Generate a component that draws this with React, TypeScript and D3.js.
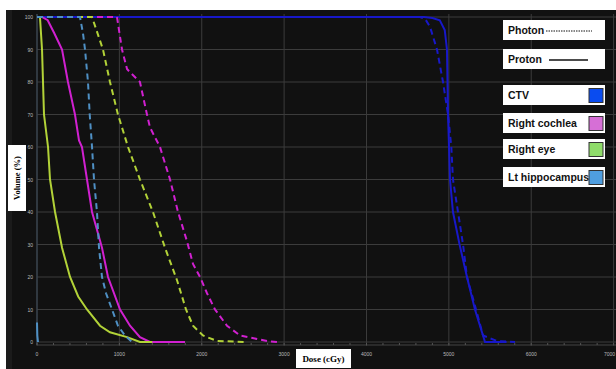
import React, { useEffect, useRef } from 'react';
import * as d3 from 'd3';

type Pt = [number, number];

// dose (cGy), volume (%)
const ctvProton: Pt[] = [[0, 100], [4700, 100], [4800, 99.7], [4890, 99], [4950, 96], [4977, 90], [4990, 70], [5014, 50], [5050, 40], [5130, 30], [5220, 20], [5317, 10], [5390, 4], [5439, 0], [5700, 0]];
const ctvPhoton: Pt[] = [[0, 100], [4650, 100], [4710, 99.5], [4771, 97], [4856, 90], [4929, 80], [4990, 70], [5030, 60], [5050, 50], [5111, 40], [5172, 30], [5220, 20], [5330, 10], [5415, 2], [5585, 0.3], [5803, 0]];
const cochleaProton: Pt[] = [[60, 100], [130, 99], [210, 95], [304, 90], [376, 80], [461, 70], [510, 62], [546, 60], [607, 50], [668, 40], [789, 29], [862, 20], [1008, 10], [1129, 5], [1250, 1.5], [1372, 0], [1797, 0]];
const cochleaPhoton: Pt[] = [[0, 100], [971, 100], [1032, 90], [1093, 84], [1129, 83], [1250, 80], [1335, 70], [1372, 66], [1493, 60], [1615, 50], [1712, 40], [1821, 31], [1894, 24], [1979, 20], [2064, 15], [2161, 10], [2307, 5], [2465, 2], [2792, 0.3], [2914, 0]];
const eyeProton: Pt[] = [[0, 100], [36, 100], [61, 90], [85, 70], [134, 60], [158, 50], [219, 40], [304, 29], [401, 20], [500, 14], [607, 10], [765, 5], [886, 3], [1093, 1.5], [1250, 0], [1400, 0]];
const eyePhoton: Pt[] = [[0, 100], [668, 100], [801, 90], [886, 80], [983, 70], [1105, 60], [1250, 50], [1408, 40], [1554, 29], [1700, 19], [1809, 10], [1894, 5], [2015, 2], [2185, 0.3], [2550, 0]];
const hippoProton: Pt[] = [[0, 6], [4, 2], [12, 0]];
const hippoPhoton: Pt[] = [[0, 100], [522, 100], [558, 95], [583, 90], [619, 80], [640, 70], [668, 60], [692, 50], [728, 40], [753, 29], [789, 20], [838, 15], [911, 10], [983, 5], [1068, 2], [1153, 0]];

const xTicks = [0, 1000, 2000, 3000, 4000, 5000, 6000, 7000];
const yTicks = [0, 10, 20, 30, 40, 50, 60, 70, 80, 90, 100];

const structures = [
  { name: 'CTV', line: '#1818c8', swatch: '#0a4cf0', proton: ctvProton, photon: ctvPhoton },
  { name: 'Right cochlea', line: '#d020d0', swatch: '#d66fd6', proton: cochleaProton, photon: cochleaPhoton },
  { name: 'Right eye', line: '#b2d238', swatch: '#8fdc6a', proton: eyeProton, photon: eyePhoton },
  { name: 'Lt hippocampus', line: '#4f90c4', swatch: '#4f9ee0', proton: hippoProton, photon: hippoPhoton },
];

const App = () => {
  const ref = useRef<SVGSVGElement>(null);

  useEffect(() => {
    const svg = d3.select(ref.current);
    svg.selectAll('*').remove();

    const x = d3.scaleLinear().domain([0, 7000]).range([37, 613.6]);
    const y = d3.scaleLinear().domain([0, 100]).range([342, 17]);

    // page background
    svg.append('rect').attr('width', 616).attr('height', 369).attr('fill', '#ffffff');
    svg.append('rect').attr('x', 6).attr('y', 10).attr('width', 610).attr('height', 359).attr('fill', '#1b1b1b');
    svg.append('rect').attr('x', 12).attr('y', 10).attr('width', 604).attr('height', 359).attr('fill', '#111111');

    // grid
    const g = svg.append('g');
    g.selectAll('.hg').data(yTicks).enter().append('line')
      .attr('x1', 37).attr('x2', 616)
      .attr('y1', d => y(d)).attr('y2', d => y(d))
      .attr('stroke', '#3c3c3c').attr('stroke-width', 1);
    g.selectAll('.vg').data(xTicks).enter().append('line')
      .attr('x1', d => x(d)).attr('x2', d => x(d))
      .attr('y1', 14).attr('y2', 346)
      .attr('stroke', '#3c3c3c').attr('stroke-width', 1);
    // axis lines
    g.append('line').attr('x1', 37).attr('x2', 616).attr('y1', 345).attr('y2', 345).attr('stroke', '#444');
    g.append('line').attr('x1', 37).attr('x2', 37).attr('y1', 14).attr('y2', 345).attr('stroke', '#3a4a5a');
    // minor ticks
    g.selectAll('.mt').data(d3.range(0, 7001, 200)).enter().append('line')
      .attr('x1', d => x(d)).attr('x2', d => x(d))
      .attr('y1', 343).attr('y2', 345)
      .attr('stroke', '#555');

    // tick labels
    g.selectAll('.yl').data(yTicks).enter().append('text')
      .attr('x', 33).attr('y', d => y(d) + 2)
      .attr('text-anchor', 'end')
      .attr('font-family', 'Liberation Sans, Arial, sans-serif')
      .attr('font-size', 5).attr('fill', '#bbbbbb')
      .text(d => d);
    g.selectAll('.xl').data(xTicks).enter().append('text')
      .attr('x', d => (d === 7000 ? 615 : x(d))).attr('y', 356)
      .attr('text-anchor', d => (d === 7000 ? 'end' : 'middle'))
      .attr('font-family', 'Liberation Sans, Arial, sans-serif')
      .attr('font-size', 5).attr('fill', '#bbbbbb')
      .text(d => d);

    // curves
    const line = d3.line<Pt>().x(d => x(d[0])).y(d => y(d[1]));
    const curves = svg.append('g');
    structures.forEach(s => {
      curves.append('path').datum(s.photon)
        .attr('d', line).attr('fill', 'none')
        .attr('stroke', s.line).attr('stroke-width', 2)
        .attr('stroke-dasharray', '6,4');
      curves.append('path').datum(s.proton)
        .attr('d', line).attr('fill', 'none')
        .attr('stroke', s.line).attr('stroke-width', 2);
    });

    // axis titles
    const yt = svg.append('g').attr('transform', 'translate(17,178) rotate(-90)');
    yt.append('rect').attr('x', -33).attr('y', -9).attr('width', 66).attr('height', 18).attr('fill', '#fff');
    yt.append('text').attr('x', 0).attr('y', 3).attr('text-anchor', 'middle')
      .attr('font-family', 'Liberation Serif, Times New Roman, serif')
      .attr('font-weight', 'bold').attr('font-size', 8.5).attr('fill', '#000')
      .text('Volume (%)');
    svg.append('rect').attr('x', 296).attr('y', 349).attr('width', 55).attr('height', 19).attr('fill', '#fff');
    svg.append('text').attr('x', 323.5).attr('y', 362).attr('text-anchor', 'middle')
      .attr('font-family', 'Liberation Serif, Times New Roman, serif')
      .attr('font-weight', 'bold').attr('font-size', 9).attr('fill', '#000')
      .text('Dose (cGy)');

    // legend
    const lg = svg.append('g').attr('font-family', 'Liberation Sans, Arial, sans-serif')
      .attr('font-weight', 'bold').attr('font-size', 10.5);
    const boxX = 503, boxW = 102, boxH = 20;
    lg.append('rect').attr('x', boxX).attr('y', 20).attr('width', boxW).attr('height', boxH).attr('fill', '#fff');
    lg.append('text').attr('x', 508).attr('y', 34).attr('fill', '#111').text('Photon');
    lg.append('line').attr('x1', 546).attr('x2', 592).attr('y1', 31).attr('y2', 31)
      .attr('stroke', '#111').attr('stroke-width', 1).attr('stroke-dasharray', '1.5,1');
    lg.append('rect').attr('x', boxX).attr('y', 49).attr('width', boxW).attr('height', boxH).attr('fill', '#fff');
    lg.append('text').attr('x', 508).attr('y', 63).attr('fill', '#111').text('Proton');
    lg.append('line').attr('x1', 549).attr('x2', 588).attr('y1', 60).attr('y2', 60)
      .attr('stroke', '#111').attr('stroke-width', 1.5);

    const items = lg.selectAll('.item').data(structures).enter().append('g')
      .attr('transform', (d, i) => `translate(${boxX},${[85, 113, 139, 167][i]})`);
    items.append('rect').attr('width', boxW).attr('height', boxH).attr('fill', '#fff');
    items.append('text').attr('x', 5).attr('y', 14).attr('fill', '#111').text(d => d.name);
    items.append('rect').attr('x', 86).attr('y', 3.5).attr('width', 14).attr('height', 14)
      .attr('fill', d => d.swatch).attr('stroke', '#333').attr('stroke-width', 1);
  }, []);

  return (
    <svg ref={ref} width={616} height={369}
      style={{ position: 'fixed', left: 0, top: 0, display: 'block' }} />
  );
};

export default App;
